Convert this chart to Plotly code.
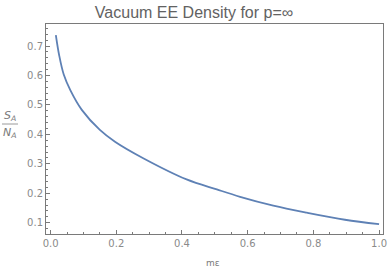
import plotly.graph_objects as go

m_eps = [0.016, 0.026, 0.040, 0.060, 0.095, 0.150, 0.196, 0.282, 0.414, 0.506, 0.577, 0.678, 0.780, 0.896, 1.0]
density = [0.737, 0.669, 0.603, 0.550, 0.483, 0.415, 0.375, 0.319, 0.247, 0.213, 0.188, 0.158, 0.134, 0.110, 0.095]

x_ticks = [0.0, 0.2, 0.4, 0.6, 0.8, 1.0]
x_ticklabels = ["0.0", "0.2", "0.4", "0.6", "0.8", "1.0"]
y_ticks = [0.1, 0.2, 0.3, 0.4, 0.5, 0.6, 0.7]
y_ticklabels = ["0.1", "0.2", "0.3", "0.4", "0.5", "0.6", "0.7"]

W, H = 388, 273
L, R, T, B = 46, 383, 24, 234

def px(x):
    return (x - L) / (R - L)

def py(y):
    return (B - y) / (B - T)

fig = go.Figure()
fig.add_trace(go.Scatter(x=m_eps, y=density, mode="lines",
                         line=dict(color="#5E81B5", width=1.8, shape="spline", smoothing=1.0),
                         hoverinfo="skip", showlegend=False))

axis_common = dict(showgrid=False, zeroline=False, showline=True, mirror=True,
                   linecolor="#7a7a7a", linewidth=1, ticks="inside", ticklen=4,
                   tickcolor="#7a7a7a", tickwidth=1, tickmode="array",
                   tickfont=dict(family="DejaVu Sans, Arial", size=10, color="#8a8a8a"))

fig.update_xaxes(range=[-0.014, 1.012], tickvals=x_ticks, ticktext=x_ticklabels,
                 minor=dict(dtick=0.05, tick0=0, ticks="inside", ticklen=2, tickcolor="#7a7a7a"),
                 **axis_common)
fig.update_yaxes(range=[0.0616, 0.7747], tickvals=y_ticks, ticktext=y_ticklabels,
                 minor=dict(dtick=0.02, tick0=0, ticks="inside", ticklen=2, tickcolor="#7a7a7a"),
                 **axis_common)

fig.update_layout(
    width=W, height=H,
    margin=dict(l=L, r=W - R, t=T, b=H - B, autoexpand=False),
    plot_bgcolor="white", paper_bgcolor="white",
    hovermode=False,
    title=dict(text="Vacuum EE Density for p=∞", x=px(214.5), xanchor="center",
               y=1 - 12 / H, yanchor="middle",
               font=dict(family="Liberation Sans, Arial", size=16, color="#626262")),
    annotations=[
        dict(text="mε", xref="paper", yref="paper", x=px(213), y=py(263),
             xanchor="center", yanchor="middle", showarrow=False,
             font=dict(family="DejaVu Sans, Arial", size=9, color="#7a7a7a")),
        dict(text="<i>S<sub>A</sub></i>", xref="paper", yref="paper", x=px(10), y=py(116),
             xanchor="center", yanchor="middle", showarrow=False,
             font=dict(family="DejaVu Sans, Arial", size=11, color="#7a7a7a")),
        dict(text="<i>N<sub>A</sub></i>", xref="paper", yref="paper", x=px(10), y=py(133),
             xanchor="center", yanchor="middle", showarrow=False,
             font=dict(family="DejaVu Sans, Arial", size=11, color="#7a7a7a")),
    ],
    shapes=[dict(type="line", xref="paper", yref="paper", x0=px(2), x1=px(18),
                 y0=py(124), y1=py(124), line=dict(color="#9a9a9a", width=1))],
)

fig.write_html("out.html", config={"displayModeBar": False},
               post_script="document.body.style.margin='0';")
